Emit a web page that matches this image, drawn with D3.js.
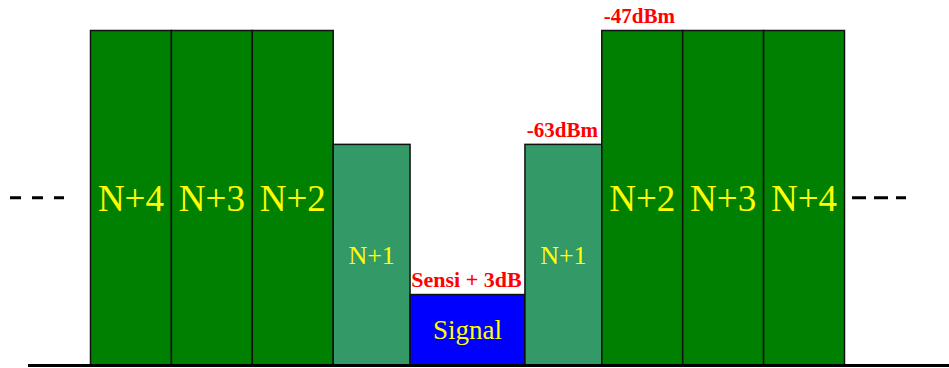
<!DOCTYPE html>
<html>
<head>
<meta charset="utf-8">
<script src="https://cdn.jsdelivr.net/npm/d3@7"></script>
<style>
  body { margin: 0; background: #fff; }
  svg { display: block; }
</style>
</head>
<body>
<div id="chart"></div>
<script>
const width = 949, height = 368;

// channel data (schematic receiver blocking mask)
const channels  = ["N+4", "N+3", "N+2", "N+1", "Signal", "N+1", "N+2", "N+3", "N+4"];
const levels    = [-47, -47, -47, -63, -84.1, -63, -47, -47, -47];   // dBm
const bandwidth = [1.0, 1.0, 1.0, 0.95, 1.42, 0.95, 1.0, 1.0, 1.0]; // relative channel widths
const kinds     = ["far", "far", "far", "adj", "sig", "adj", "far", "far", "far"];
const levelLabels = [
    { idx: 6, text: "-47dBm", anchor: "start", size: 21 },
    { idx: 5, text: "-63dBm", anchor: "middle", size: 21 },
    { idx: 4, text: "Sensi + 3dB", anchor: "middle", size: 22 }
];

const fill = { far: "#008000", adj: "#339966", sig: "#0000ff" };
const fontSize = { far: 37, adj: 26, sig: 27 };

const ends = d3.cumsum(bandwidth);
const data = channels.map((c, i) => ({
    name: c, level: levels[i], kind: kinds[i],
    x0: i === 0 ? 0 : ends[i - 1], x1: ends[i]
}));

const x = d3.scaleLinear().domain([0, ends[ends.length - 1]]).range([90.5, 844.5]);
const y = d3.scaleLinear().domain([-94, -47]).range([365, 30.5]);

const svg = d3.select("#chart").append("svg")
    .attr("width", width)
    .attr("height", height);

svg.append("g")
    .selectAll("rect")
    .data(data)
    .enter().append("rect")
    .attr("x", d => x(d.x0))
    .attr("y", d => y(d.level))
    .attr("width", d => x(d.x1) - x(d.x0))
    .attr("height", d => y.range()[0] - y(d.level))
    .attr("fill", d => fill[d.kind])
    .attr("stroke", "#111")
    .attr("stroke-width", 1.5);

svg.append("g")
    .selectAll("text")
    .data(data)
    .enter().append("text")
    .attr("x", d => (x(d.x0) + x(d.x1)) / 2)
    .attr("y", d => (y(d.level) + y.range()[0]) / 2)
    .attr("dy", "0.35em")
    .attr("text-anchor", "middle")
    .attr("fill", "#ffff00")
    .style("font-family", "'Liberation Serif', 'Times New Roman', serif")
    .style("font-size", d => fontSize[d.kind] + "px")
    .text(d => d.name);

// level annotations
svg.append("g")
    .selectAll("text")
    .data(levelLabels)
    .enter().append("text")
    .attr("x", d => {
        const c = data[d.idx];
        return d.anchor === "start" ? x(c.x0) + 2 : (x(c.x0) + x(c.x1)) / 2 - 1;
    })
    .attr("y", d => y(data[d.idx].level) - 7.5)
    .attr("text-anchor", d => d.anchor)
    .attr("fill", "#ff0000")
    .style("font-family", "'Liberation Serif', 'Times New Roman', serif")
    .style("font-weight", "bold")
    .style("font-size", d => d.size + "px")
    .text(d => d.text);

// baseline
svg.append("line")
    .attr("x1", 28).attr("x2", width)
    .attr("y1", 365.5).attr("y2", 365.5)
    .attr("stroke", "#000")
    .attr("stroke-width", 3);

// continuation dashes
const midY = (y(-47) + y.range()[0]) / 2;
svg.append("line")
    .attr("x1", 10).attr("x2", 64)
    .attr("y1", midY).attr("y2", midY)
    .attr("stroke", "#000").attr("stroke-width", 3)
    .attr("stroke-dasharray", "11,11");
svg.append("line")
    .attr("x1", 852).attr("x2", 906)
    .attr("y1", midY).attr("y2", midY)
    .attr("stroke", "#000").attr("stroke-width", 3)
    .attr("stroke-dasharray", "14,8");
</script>
</body>
</html>
